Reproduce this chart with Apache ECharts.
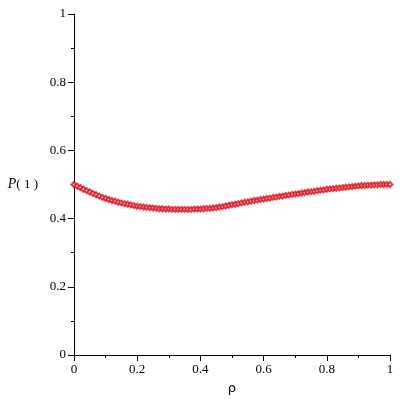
<!DOCTYPE html>
<html>
<head>
<meta charset="utf-8">
<script src="https://cdn.jsdelivr.net/npm/echarts@6/dist/echarts.min.js"></script>
<style>
  html, body { margin: 0; padding: 0; background: #fff; }
  #chart { width: 400px; height: 400px; }
</style>
</head>
<body>
<div id="chart"></div>
<script>
// rho sample points
const rho = [
  0.00, 0.01, 0.02, 0.03, 0.04, 0.05, 0.06, 0.07, 0.08, 0.09,
  0.10, 0.11, 0.12, 0.13, 0.14, 0.15, 0.16, 0.17, 0.18, 0.19,
  0.20, 0.21, 0.22, 0.23, 0.24, 0.25, 0.26, 0.27, 0.28, 0.29,
  0.30, 0.31, 0.32, 0.33, 0.34, 0.35, 0.36, 0.37, 0.38, 0.39,
  0.40, 0.41, 0.42, 0.43, 0.44, 0.45, 0.46, 0.47, 0.48, 0.49,
  0.50, 0.51, 0.52, 0.53, 0.54, 0.55, 0.56, 0.57, 0.58, 0.59,
  0.60, 0.61, 0.62, 0.63, 0.64, 0.65, 0.66, 0.67, 0.68, 0.69,
  0.70, 0.71, 0.72, 0.73, 0.74, 0.75, 0.76, 0.77, 0.78, 0.79,
  0.80, 0.81, 0.82, 0.83, 0.84, 0.85, 0.86, 0.87, 0.88, 0.89,
  0.90, 0.91, 0.92, 0.93, 0.94, 0.95, 0.96, 0.97, 0.98, 0.99,
  1.00
];
// P(1) values
const p1 = [
  0.500, 0.495, 0.491, 0.486, 0.482, 0.478, 0.474, 0.470, 0.466, 0.462,
  0.459, 0.456, 0.453, 0.451, 0.448, 0.446, 0.444, 0.442, 0.440, 0.438,
  0.436, 0.435, 0.434, 0.433, 0.432, 0.431, 0.430, 0.429, 0.429, 0.428,
  0.428, 0.427, 0.427, 0.427, 0.427, 0.427, 0.427, 0.427, 0.428, 0.428,
  0.428, 0.429, 0.430, 0.430, 0.431, 0.432, 0.434, 0.435, 0.437, 0.439,
  0.441, 0.442, 0.444, 0.446, 0.448, 0.449, 0.451, 0.453, 0.454, 0.456,
  0.457, 0.459, 0.460, 0.462, 0.463, 0.465, 0.466, 0.468, 0.469, 0.471,
  0.472, 0.473, 0.475, 0.476, 0.478, 0.479, 0.480, 0.482, 0.483, 0.484,
  0.486, 0.487, 0.488, 0.489, 0.490, 0.491, 0.492, 0.493, 0.494, 0.495,
  0.496, 0.497, 0.497, 0.498, 0.498, 0.499, 0.499, 0.500, 0.500, 0.500,
  0.500
];

const chart = echarts.init(document.getElementById('chart'));
const font = "'Liberation Serif', 'Times New Roman', serif";

const axisCommon = {
  type: 'value',
  min: 0,
  max: 1,
  interval: 0.2,
  axisLine: { show: true, onZero: false, lineStyle: { color: '#000', width: 1 } },
  axisTick: { show: true, length: 6, lineStyle: { color: '#000' } },
  minorTick: { show: true, splitNumber: 2, length: 3, lineStyle: { color: '#000' } },
  splitLine: { show: false },
  axisLabel: { color: '#000', fontFamily: font, fontSize: 13, margin: 8, formatter: v => String(+v.toFixed(1)) }
};

chart.setOption({
  animation: false,
  grid: { left: 74, right: 10, top: 14, bottom: 45 },
  xAxis: Object.assign({}, axisCommon, {
    name: 'ρ',
    nameLocation: 'middle',
    nameGap: 27,
    nameTextStyle: { color: '#000', fontFamily: "'DejaVu Sans'", fontSize: 13 }
  }),
  yAxis: Object.assign({}, axisCommon, {
    name: '{i|P}{n|( 1 )}',
    nameLocation: 'middle',
    nameRotate: 0,
    nameGap: 36,
    nameTextStyle: {
      color: '#000', fontFamily: font, fontSize: 13,
      rich: {
        i: { fontStyle: 'italic', fontFamily: font, fontSize: 14, color: '#000' },
        n: { fontFamily: font, fontSize: 13, color: '#000' }
      }
    }
  }),
  series: [{
    type: 'scatter',
    data: rho.map((r, i) => [r, p1[i]]),
    symbol: 'emptyDiamond',
    symbolSize: 5,
    itemStyle: { color: '#d8101e', borderColor: '#d8101e', borderWidth: 0.8 }
  }]
});
</script>
</body>
</html>
